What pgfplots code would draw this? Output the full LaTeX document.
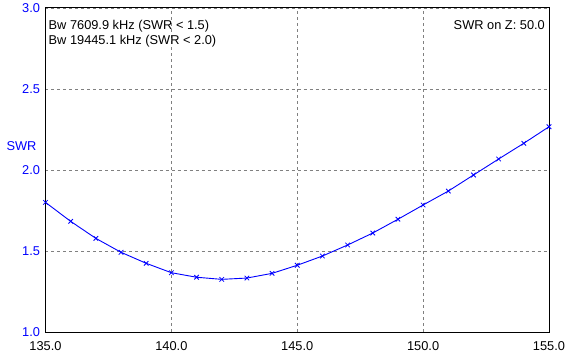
\documentclass[border=0pt]{standalone}
\usepackage{pgfplots}
\pgfplotsset{compat=1.18}
\usepackage{fontspec}
\setmainfont{Liberation Sans}
\definecolor{swrblue}{RGB}{0,0,255}
\definecolor{gridgray}{RGB}{128,128,128}
\begin{document}
\begin{tikzpicture}
\begin{axis}[
  scale only axis,
  width=503.5bp, height=324bp,
  xmin=135, xmax=155, ymin=1, ymax=3,
  xtick={135,140,145,150,155},
  ytick={1,1.5,2,2.5,3},
  xticklabels={135.0,140.0,145.0,150.0,155.0},
  yticklabels={1.0,1.5,2.0,2.5,3.0},
  major tick length=0pt,
  tick style={draw=none},
  grid=major,
  major grid style={gridgray, line width=0.75bp, dash pattern=on 3bp off 3bp},
  axis line style={black, line width=1bp},
  every tick label/.append style={font=\fontsize{12.8bp}{15bp}\selectfont},
  yticklabel style={text=swrblue, xshift=-2bp},
  xticklabel style={text=black, yshift=-6bp},
  /pgf/number format/assume math mode=true,
  clip=false,
]
\addplot[swrblue, line width=0.9bp, mark=x, mark size=3.2bp, mark options={solid, line width=0.8bp}] coordinates {
(135,1.800) (136,1.683) (137,1.578) (138,1.492) (139,1.424) (140,1.366)
(141,1.338) (142,1.325) (143,1.333) (144,1.362) (145,1.412) (146,1.469)
(147,1.537) (148,1.611) (149,1.696) (150,1.784) (151,1.870) (152,1.969)
(153,2.068) (154,2.165) (155,2.267)
};
\node[anchor=north west, inner sep=0pt, align=left, font=\fontsize{12.8bp}{15bp}\selectfont] at ([xshift=3bp,yshift=-12bp]rel axis cs:0,1) {Bw 7609.9 kHz (SWR < 1.5)\\Bw 19445.1 kHz (SWR < 2.0)};
\node[anchor=north east, inner sep=0pt, font=\fontsize{12.8bp}{15bp}\selectfont] at ([xshift=-4bp,yshift=-12bp]rel axis cs:1,1) {SWR on Z: 50.0};
\node[anchor=center, inner sep=0pt, text=swrblue, font=\fontsize{12.8bp}{15bp}\selectfont] at ([xshift=-24bp]rel axis cs:0,0.574) {SWR};
\end{axis}
\pgfresetboundingbox
\path[use as bounding box] (-45.5bp,-30bp) rectangle (533.5bp,332bp);
\end{tikzpicture}
\end{document}
